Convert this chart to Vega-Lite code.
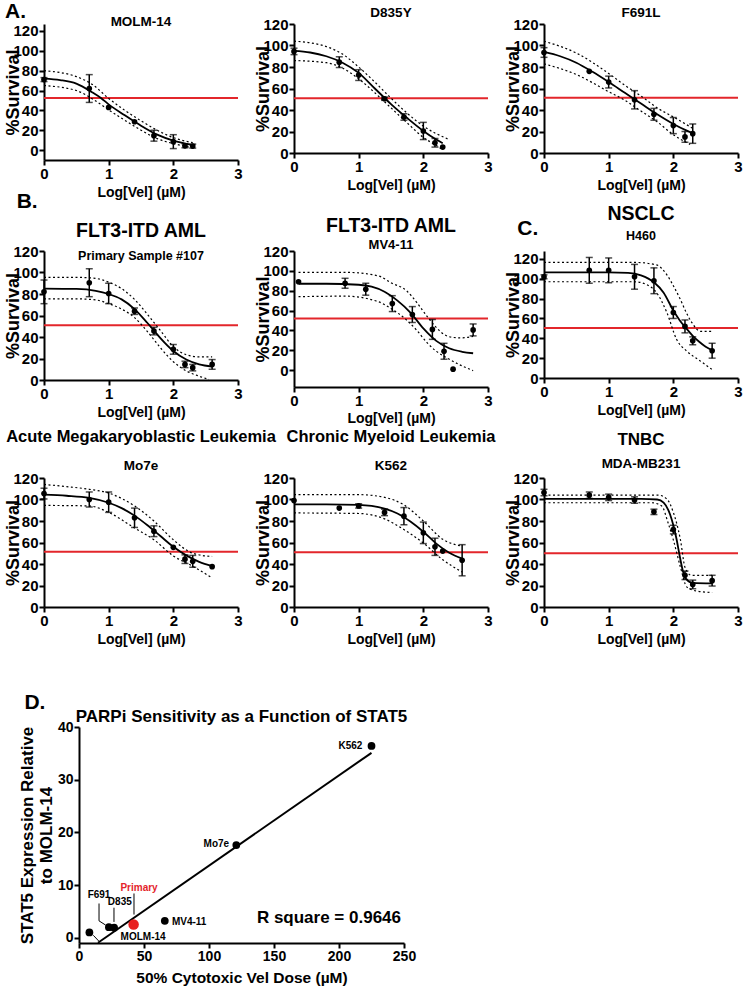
{
  "$schema": "https://vega.github.io/schema/vega-lite/v6.json",
  "background": "white",
  "padding": {"left": 4, "top": 0, "right": 0, "bottom": 0},
  "config": {
    "font": "Liberation Sans",
    "view": {"stroke": null},
    "axis": {"domainColor": "black", "domainWidth": 2, "tickColor": "black", "tickWidth": 2, "tickSize": 5, "grid": false, "labelFont": "Liberation Sans", "labelFontWeight": "bold", "labelColor": "black", "labelFontSize": 15, "labelFlush": false, "titleFont": "Liberation Sans", "titleFontWeight": "bold", "titleColor": "black"},
    "axisX": {"titleFontSize": 14, "labelPadding": 1, "titlePadding": 4},
    "axisY": {"titleFontSize": 18, "labelPadding": 1, "titlePadding": -10},
    "title": {"font": "Liberation Sans", "fontWeight": "bold", "color": "black", "subtitleFont": "Liberation Sans", "subtitleFontWeight": "bold", "subtitleColor": "black", "frame": "group", "anchor": "middle"}
  },
  "datasets": {
    "m14": [
      {"k":"L","t":"B.","x":-0.26,"y":-52.3},
      {"k":"r","x":0,"y":52.5},{"k":"r","x":3,"y":52.5},
      {"k":"f","x":0,"y":72},{"k":"f","x":0.25,"y":70.5},{"k":"f","x":0.5,"y":67},{"k":"f","x":0.75,"y":58},{"k":"f","x":0.88,"y":52.5},{"k":"f","x":1,"y":46},{"k":"f","x":1.25,"y":35},{"k":"f","x":1.5,"y":24.5},{"k":"f","x":1.75,"y":15.5},{"k":"f","x":2,"y":9.5},{"k":"f","x":2.3,"y":5},
      {"k":"u","x":0,"y":80},{"k":"u","x":0.5,"y":74},{"k":"u","x":0.75,"y":66},{"k":"u","x":1,"y":52},{"k":"u","x":1.25,"y":40},{"k":"u","x":1.5,"y":29.5},{"k":"u","x":1.75,"y":20},{"k":"u","x":2,"y":12.5},{"k":"u","x":2.3,"y":7.5},
      {"k":"l","x":0,"y":65},{"k":"l","x":0.5,"y":60},{"k":"l","x":0.75,"y":51.5},{"k":"l","x":1,"y":40.5},{"k":"l","x":1.25,"y":30},{"k":"l","x":1.5,"y":20},{"k":"l","x":1.75,"y":11.5},{"k":"l","x":2,"y":6.5},{"k":"l","x":2.3,"y":2.5},
      {"k":"p","x":0,"y":71,"e":2},{"k":"p","x":0.7,"y":62,"e":14},{"k":"p","x":1,"y":43,"e":0},{"k":"p","x":1.4,"y":28.5,"e":0},{"k":"p","x":1.7,"y":14.5,"e":5.5},{"k":"p","x":2,"y":8.5,"e":7},{"k":"p","x":2.18,"y":4.3,"e":2},{"k":"p","x":2.3,"y":4,"e":2}
    ],
    "d835": [
      {"k":"r","x":0,"y":51},{"k":"r","x":3,"y":51},
      {"k":"f","x":0,"y":95},{"k":"f","x":0.25,"y":93.5},{"k":"f","x":0.5,"y":90},{"k":"f","x":0.75,"y":84},{"k":"f","x":1,"y":74.5},{"k":"f","x":1.25,"y":60},{"k":"f","x":1.5,"y":45.5},{"k":"f","x":1.75,"y":32.5},{"k":"f","x":2,"y":20.5},{"k":"f","x":2.2,"y":12.5},{"k":"f","x":2.3,"y":9},
      {"k":"u","x":0,"y":104},{"k":"u","x":0.25,"y":102.5},{"k":"u","x":0.5,"y":99},{"k":"u","x":0.75,"y":92},{"k":"u","x":1,"y":80},{"k":"u","x":1.25,"y":66},{"k":"u","x":1.5,"y":51},{"k":"u","x":1.75,"y":37},{"k":"u","x":2,"y":25},{"k":"u","x":2.38,"y":13},
      {"k":"l","x":0,"y":86},{"k":"l","x":0.5,"y":84},{"k":"l","x":0.75,"y":79},{"k":"l","x":1,"y":69},{"k":"l","x":1.25,"y":56},{"k":"l","x":1.5,"y":42},{"k":"l","x":1.75,"y":28},{"k":"l","x":2,"y":14.5},{"k":"l","x":2.2,"y":7},{"k":"l","x":2.3,"y":3},
      {"k":"p","x":0,"y":94.5,"e":3},{"k":"p","x":0.7,"y":84.5,"e":5},{"k":"p","x":1,"y":72.5,"e":5},{"k":"p","x":1.4,"y":50.5,"e":1.5},{"k":"p","x":1.7,"y":33.5,"e":3},{"k":"p","x":2,"y":20.5,"e":8},{"k":"p","x":2.18,"y":9.5,"e":4},{"k":"p","x":2.3,"y":5.5,"e":0}
    ],
    "f691": [
      {"k":"L","t":"C.","x":-0.25,"y":-70.7},
      {"k":"r","x":0,"y":51.5},{"k":"r","x":3,"y":51.5},
      {"k":"f","x":0,"y":94},{"k":"f","x":0.25,"y":90},{"k":"f","x":0.5,"y":84},{"k":"f","x":0.75,"y":75.5},{"k":"f","x":1,"y":66},{"k":"f","x":1.25,"y":56},{"k":"f","x":1.5,"y":46},{"k":"f","x":1.75,"y":36},{"k":"f","x":2,"y":27},{"k":"f","x":2.2,"y":21},{"k":"f","x":2.3,"y":18.5},
      {"k":"u","x":0,"y":104},{"k":"u","x":0.5,"y":93},{"k":"u","x":1,"y":74},{"k":"u","x":1.25,"y":63},{"k":"u","x":1.5,"y":53},{"k":"u","x":1.75,"y":42},{"k":"u","x":2,"y":33.5},{"k":"u","x":2.3,"y":23},
      {"k":"l","x":0,"y":83},{"k":"l","x":0.5,"y":73},{"k":"l","x":1,"y":57},{"k":"l","x":1.25,"y":49},{"k":"l","x":1.5,"y":39},{"k":"l","x":1.75,"y":29},{"k":"l","x":2,"y":17},{"k":"l","x":2.26,"y":8},
      {"k":"p","x":0,"y":93.5,"e":4.5},{"k":"p","x":0.7,"y":76,"e":0},{"k":"p","x":1,"y":66,"e":5.5},{"k":"p","x":1.4,"y":49.5,"e":8.5},{"k":"p","x":1.7,"y":36,"e":5.5},{"k":"p","x":2,"y":25.5,"e":7.5},{"k":"p","x":2.18,"y":15,"e":5},{"k":"p","x":2.3,"y":18,"e":9}
    ],
    "p107": [
      {"k":"r","x":0,"y":51},{"k":"r","x":3,"y":51},
      {"k":"f","x":0,"y":85},{"k":"f","x":0.5,"y":84.7},{"k":"f","x":0.8,"y":83},{"k":"f","x":1,"y":80},{"k":"f","x":1.2,"y":75},{"k":"f","x":1.4,"y":66},{"k":"f","x":1.6,"y":53},{"k":"f","x":1.7,"y":46},{"k":"f","x":1.8,"y":39},{"k":"f","x":2,"y":27},{"k":"f","x":2.2,"y":19},{"k":"f","x":2.4,"y":14.5},{"k":"f","x":2.6,"y":12.5},
      {"k":"u","x":0,"y":95.5},{"k":"u","x":0.5,"y":95.5},{"k":"u","x":0.8,"y":94.5},{"k":"u","x":1,"y":91},{"k":"u","x":1.2,"y":85},{"k":"u","x":1.4,"y":75},{"k":"u","x":1.6,"y":61},{"k":"u","x":1.8,"y":46},{"k":"u","x":2,"y":31},{"k":"u","x":2.2,"y":23.5},{"k":"u","x":2.4,"y":21.5},{"k":"u","x":2.6,"y":21.5},
      {"k":"l","x":0,"y":75.5},{"k":"l","x":0.5,"y":75.5},{"k":"l","x":0.8,"y":74.5},{"k":"l","x":1,"y":71},{"k":"l","x":1.2,"y":66},{"k":"l","x":1.4,"y":58},{"k":"l","x":1.6,"y":45},{"k":"l","x":1.8,"y":30},{"k":"l","x":2,"y":17},{"k":"l","x":2.2,"y":8.5},{"k":"l","x":2.4,"y":3.5},{"k":"l","x":2.55,"y":0.5},
      {"k":"p","x":0,"y":82,"e":11},{"k":"p","x":0.7,"y":90.5,"e":13},{"k":"p","x":1,"y":80.5,"e":9.5},{"k":"p","x":1.4,"y":64,"e":3},{"k":"p","x":1.7,"y":45.5,"e":3.5},{"k":"p","x":2,"y":28.5,"e":4.5},{"k":"p","x":2.18,"y":14.5,"e":3},{"k":"p","x":2.3,"y":11.5,"e":3},{"k":"p","x":2.6,"y":14.5,"e":4.5}
    ],
    "mv4": [
      {"k":"r","x":0,"y":52},{"k":"r","x":3,"y":52},
      {"k":"f","x":0.07,"y":87},{"k":"f","x":0.5,"y":87},{"k":"f","x":1,"y":86},{"k":"f","x":1.2,"y":84},{"k":"f","x":1.4,"y":79},{"k":"f","x":1.6,"y":70},{"k":"f","x":1.8,"y":58},{"k":"f","x":2,"y":42},{"k":"f","x":2.2,"y":29.5},{"k":"f","x":2.4,"y":22},{"k":"f","x":2.6,"y":18.5},{"k":"f","x":2.77,"y":17},
      {"k":"u","x":0.07,"y":98.5},{"k":"u","x":0.8,"y":98.5},{"k":"u","x":1.3,"y":95},{"k":"u","x":1.5,"y":88},{"k":"u","x":1.74,"y":80},{"k":"u","x":1.9,"y":68},{"k":"u","x":2.06,"y":54},{"k":"u","x":2.2,"y":43},{"k":"u","x":2.32,"y":36},{"k":"u","x":2.45,"y":33},{"k":"u","x":2.59,"y":32.5},{"k":"u","x":2.77,"y":34},
      {"k":"l","x":0.07,"y":74},{"k":"l","x":0.8,"y":74.5},{"k":"l","x":1.3,"y":69},{"k":"l","x":1.5,"y":62},{"k":"l","x":1.74,"y":50.5},{"k":"l","x":1.9,"y":40},{"k":"l","x":2.06,"y":27.5},{"k":"l","x":2.2,"y":19},{"k":"l","x":2.32,"y":14},{"k":"l","x":2.59,"y":4.5},{"k":"l","x":2.77,"y":-0.5},
      {"k":"p","x":0.07,"y":89,"e":0},{"k":"p","x":0.79,"y":87.5,"e":5},{"k":"p","x":1.11,"y":81.5,"e":6},{"k":"p","x":1.52,"y":67,"e":8},{"k":"p","x":1.83,"y":56,"e":8},{"k":"p","x":2.14,"y":41,"e":10},{"k":"p","x":2.32,"y":19,"e":8},{"k":"p","x":2.46,"y":1,"e":0},{"k":"p","x":2.77,"y":40.5,"e":6}
    ],
    "h460": [
      {"k":"r","x":0,"y":50.5},{"k":"r","x":3,"y":50.5},
      {"k":"f","x":0,"y":106.5},{"k":"f","x":0.5,"y":106.5},{"k":"f","x":1,"y":106.5},{"k":"f","x":1.3,"y":106},{"k":"f","x":1.5,"y":103.5},{"k":"f","x":1.7,"y":96.5},{"k":"f","x":1.85,"y":86},{"k":"f","x":2,"y":68},{"k":"f","x":2.1,"y":58},{"k":"f","x":2.2,"y":50},{"k":"f","x":2.3,"y":42.5},{"k":"f","x":2.4,"y":36.5},{"k":"f","x":2.5,"y":31.5},{"k":"f","x":2.6,"y":28},
      {"k":"u","x":0,"y":116.5},{"k":"u","x":1.4,"y":116.5},{"k":"u","x":1.74,"y":114},{"k":"u","x":1.9,"y":104},{"k":"u","x":2,"y":93},{"k":"u","x":2.11,"y":79},{"k":"u","x":2.2,"y":66},{"k":"u","x":2.29,"y":55.5},{"k":"u","x":2.42,"y":47},{"k":"u","x":2.6,"y":47},
      {"k":"l","x":0,"y":97},{"k":"l","x":1.4,"y":97},{"k":"l","x":1.59,"y":94},{"k":"l","x":1.74,"y":86},{"k":"l","x":1.9,"y":66},{"k":"l","x":2.05,"y":39},{"k":"l","x":2.21,"y":27},{"k":"l","x":2.42,"y":17},{"k":"l","x":2.6,"y":8.5},
      {"k":"p","x":0,"y":102,"e":2},{"k":"p","x":0.7,"y":108.5,"e":13},{"k":"p","x":1,"y":108.5,"e":12.5},{"k":"p","x":1.4,"y":102,"e":12.5},{"k":"p","x":1.7,"y":98,"e":13},{"k":"p","x":2,"y":66,"e":6},{"k":"p","x":2.18,"y":52,"e":6.5},{"k":"p","x":2.3,"y":37.5,"e":4},{"k":"p","x":2.6,"y":27.5,"e":7.5}
    ],
    "mo7e": [
      {"k":"r","x":0,"y":51.5},{"k":"r","x":3,"y":51.5},
      {"k":"f","x":0,"y":104.5},{"k":"f","x":0.35,"y":103.5},{"k":"f","x":0.7,"y":101.5},{"k":"f","x":1,"y":97},{"k":"f","x":1.2,"y":92},{"k":"f","x":1.4,"y":85},{"k":"f","x":1.6,"y":76},{"k":"f","x":1.8,"y":66},{"k":"f","x":2,"y":56},{"k":"f","x":2.2,"y":48},{"k":"f","x":2.4,"y":42},{"k":"f","x":2.6,"y":38},
      {"k":"u","x":0,"y":114},{"k":"u","x":0.35,"y":112},{"k":"u","x":0.7,"y":109.5},{"k":"u","x":1,"y":106},{"k":"u","x":1.4,"y":94},{"k":"u","x":1.7,"y":80},{"k":"u","x":2,"y":62.5},{"k":"u","x":2.3,"y":50},{"k":"u","x":2.6,"y":47},
      {"k":"l","x":0,"y":94.5},{"k":"l","x":0.7,"y":94},{"k":"l","x":1,"y":88},{"k":"l","x":1.4,"y":73.5},{"k":"l","x":1.7,"y":62.5},{"k":"l","x":2,"y":47.5},{"k":"l","x":2.3,"y":38},{"k":"l","x":2.6,"y":27},
      {"k":"p","x":0,"y":105.5,"e":5},{"k":"p","x":0.7,"y":100,"e":7},{"k":"p","x":1,"y":97.5,"e":9.5},{"k":"p","x":1.4,"y":83,"e":9},{"k":"p","x":1.7,"y":70.5,"e":5},{"k":"p","x":2,"y":55.5,"e":0},{"k":"p","x":2.18,"y":44.5,"e":4},{"k":"p","x":2.3,"y":42.5,"e":5.5},{"k":"p","x":2.6,"y":37.5,"e":0}
    ],
    "k562": [
      {"k":"r","x":0,"y":51},{"k":"r","x":3,"y":51},
      {"k":"f","x":0,"y":95.5},{"k":"f","x":0.5,"y":95.5},{"k":"f","x":1,"y":95},{"k":"f","x":1.2,"y":94},{"k":"f","x":1.4,"y":91.5},{"k":"f","x":1.6,"y":87},{"k":"f","x":1.8,"y":79.5},{"k":"f","x":2,"y":70},{"k":"f","x":2.2,"y":59},{"k":"f","x":2.4,"y":50.5},{"k":"f","x":2.6,"y":45},
      {"k":"u","x":0,"y":104.5},{"k":"u","x":1,"y":104.5},{"k":"u","x":1.4,"y":102},{"k":"u","x":1.7,"y":95},{"k":"u","x":2,"y":80},{"k":"u","x":2.3,"y":63},{"k":"u","x":2.6,"y":56.5},
      {"k":"l","x":0,"y":87.5},{"k":"l","x":1,"y":87},{"k":"l","x":1.4,"y":82},{"k":"l","x":1.7,"y":72},{"k":"l","x":2,"y":59.5},{"k":"l","x":2.3,"y":44},{"k":"l","x":2.6,"y":32.5},
      {"k":"p","x":0,"y":99,"e":0},{"k":"p","x":0.7,"y":92,"e":0},{"k":"p","x":1,"y":94,"e":2},{"k":"p","x":1.4,"y":88,"e":3},{"k":"p","x":1.7,"y":84.5,"e":8},{"k":"p","x":2,"y":69,"e":10},{"k":"p","x":2.18,"y":56,"e":8},{"k":"p","x":2.3,"y":52,"e":0},{"k":"p","x":2.6,"y":43.5,"e":14.5}
    ],
    "mda": [
      {"k":"r","x":0,"y":50},{"k":"r","x":3,"y":50},
      {"k":"f","x":0,"y":100.5},{"k":"f","x":0.5,"y":100.5},{"k":"f","x":1,"y":100.5},{"k":"f","x":1.5,"y":100.5},{"k":"f","x":1.75,"y":100},{"k":"f","x":1.85,"y":97},{"k":"f","x":1.95,"y":86},{"k":"f","x":2,"y":76},{"k":"f","x":2.05,"y":63},{"k":"f","x":2.1,"y":47},{"k":"f","x":2.15,"y":33},{"k":"f","x":2.2,"y":26},{"k":"f","x":2.3,"y":22.5},{"k":"f","x":2.6,"y":22},
      {"k":"u","x":0,"y":104},{"k":"u","x":1.77,"y":104},{"k":"u","x":1.9,"y":100.5},{"k":"u","x":2,"y":88},{"k":"u","x":2.11,"y":62.5},{"k":"u","x":2.18,"y":37},{"k":"u","x":2.28,"y":29.5},{"k":"u","x":2.6,"y":29.5},
      {"k":"l","x":0,"y":97},{"k":"l","x":1.66,"y":97},{"k":"l","x":1.82,"y":94},{"k":"l","x":1.92,"y":78},{"k":"l","x":2,"y":62.5},{"k":"l","x":2.11,"y":37},{"k":"l","x":2.21,"y":18.5},{"k":"l","x":2.35,"y":15},{"k":"l","x":2.6,"y":13.5},
      {"k":"p","x":0,"y":106.5,"e":3},{"k":"p","x":0.7,"y":104,"e":3},{"k":"p","x":1,"y":102,"e":3},{"k":"p","x":1.4,"y":99.5,"e":3},{"k":"p","x":1.7,"y":88.5,"e":2.5},{"k":"p","x":2,"y":72,"e":4},{"k":"p","x":2.18,"y":29.5,"e":4},{"k":"p","x":2.3,"y":21,"e":4},{"k":"p","x":2.6,"y":24.5,"e":5}
    ],
    "dd": [
      {"k":"rsq","t":"R square = 0.9646","x":247.7,"y":3.74},
      {"k":"reg","x":14.6,"y":-0.95},{"k":"reg","x":225,"y":35.1},
      {"k":"pt","n":"MOLM-14","x":8,"y":1},{"k":"pt","n":"F691","x":23,"y":2},{"k":"pt","n":"D835","x":27,"y":1.9},{"k":"pt","n":"MV4-11","x":66,"y":3.2},{"k":"pt","n":"Mo7e","x":121,"y":17.6},{"k":"pt","n":"K562","x":225,"y":36.4},{"k":"pt","n":"Primary","x":42,"y":2.5},
      {"k":"lead","x":15.4,"y":6.5,"x2":15.4,"y2":3.2},{"k":"lead","x":15.4,"y":3.2,"x2":20.5,"y2":2.4},{"k":"lead","x":26.9,"y":5.7,"x2":26.9,"y2":3.0},{"k":"lead","x":42.3,"y":8.4,"x2":42.3,"y2":4.4},{"k":"lead","x":11,"y":0.46,"x2":15.4,"y2":-0.68},
      {"k":"lab","t":"K562","x":218,"y":36.3},{"k":"lab","t":"Mo7e","x":115.5,"y":17.7},{"k":"lab","t":"MV4-11","x":71.5,"y":3.0},{"k":"lab","t":"MOLM-14","x":32,"y":0.1},{"k":"lab","t":"F691","x":15.4,"y":8.2},{"k":"lab","t":"D835","x":31.4,"y":6.8},{"k":"lab","t":"Primary","x":46.2,"y":9.4}
    ]
  },
  "vconcat": [
    {
      "title": {"text": "A.", "anchor": "start", "frame": "bounds", "fontSize": 21, "offset": -16},
      "columns": 3,
      "bounds": "flush",
      "spacing": {"row": 91, "column": 56},
      "concat": [
        {
          "width": 194, "height": 136, "data": {"name": "m14"},
          "title": {"text": "MOLM-14", "fontSize": 13.5, "offset": -5},
          "encoding": {
            "x": {"field": "x", "type": "quantitative", "scale": {"domain": [0, 3], "nice": false}, "axis": {"values": [0, 1, 2, 3], "title": "Log[Vel] (µM)"}},
            "y": {"field": "y", "type": "quantitative", "scale": {"domain": [-10, 127], "nice": false}, "axis": {"values": [0, 20, 40, 60, 80, 100, 120], "title": "%Survival"}}
          },
          "layer": [
            {"transform": [{"filter": "datum.k=='r'"}], "mark": {"type": "line", "color": "#e3262b", "strokeWidth": 2}},
            {"transform": [{"filter": "datum.k=='u'||datum.k=='l'"}], "mark": {"type": "line", "color": "black", "strokeWidth": 1.2, "strokeDash": [2, 2.5], "interpolate": "monotone"}, "encoding": {"detail": {"field": "k"}}},
            {"transform": [{"filter": "datum.k=='f'"}], "mark": {"type": "line", "color": "black", "strokeWidth": 1.8, "interpolate": "monotone"}},
            {"transform": [{"filter": "datum.k=='p'&&datum.e>0"}], "mark": {"type": "errorbar", "color": "black", "thickness": 1.5, "ticks": {"size": 7, "thickness": 1.5}}, "encoding": {"yError": {"field": "e"}}},
            {"transform": [{"filter": "datum.k=='p'"}], "mark": {"type": "circle", "size": 32, "color": "black", "opacity": 1}},
            {"transform": [{"filter": "datum.k=='L'"}], "mark": {"type": "text", "fontSize": 21, "fontWeight": "bold", "align": "center", "baseline": "middle", "color": "black"}, "encoding": {"text": {"field": "t"}}}
          ]
        },
        {
          "width": 194, "height": 129, "data": {"name": "d835"},
          "title": {"text": "D835Y", "fontSize": 13.5, "offset": -2},
          "encoding": {
            "x": {"field": "x", "type": "quantitative", "scale": {"domain": [0, 3], "nice": false}, "axis": {"values": [0, 1, 2, 3], "title": "Log[Vel] (µM)"}},
            "y": {"field": "y", "type": "quantitative", "scale": {"domain": [0, 120], "nice": false}, "axis": {"values": [0, 20, 40, 60, 80, 100, 120], "title": "%Survival"}}
          },
          "layer": [
            {"transform": [{"filter": "datum.k=='r'"}], "mark": {"type": "line", "color": "#e3262b", "strokeWidth": 2}},
            {"transform": [{"filter": "datum.k=='u'||datum.k=='l'"}], "mark": {"type": "line", "color": "black", "strokeWidth": 1.2, "strokeDash": [2, 2.5], "interpolate": "monotone"}, "encoding": {"detail": {"field": "k"}}},
            {"transform": [{"filter": "datum.k=='f'"}], "mark": {"type": "line", "color": "black", "strokeWidth": 1.8, "interpolate": "monotone"}},
            {"transform": [{"filter": "datum.k=='p'&&datum.e>0"}], "mark": {"type": "errorbar", "color": "black", "thickness": 1.5, "ticks": {"size": 7, "thickness": 1.5}}, "encoding": {"yError": {"field": "e"}}},
            {"transform": [{"filter": "datum.k=='p'"}], "mark": {"type": "circle", "size": 32, "color": "black", "opacity": 1}}
          ]
        },
        {
          "width": 194, "height": 129, "data": {"name": "f691"},
          "title": {"text": "F691L", "fontSize": 13.5, "offset": -2},
          "encoding": {
            "x": {"field": "x", "type": "quantitative", "scale": {"domain": [0, 3], "nice": false}, "axis": {"values": [0, 1, 2, 3], "title": "Log[Vel] (µM)"}},
            "y": {"field": "y", "type": "quantitative", "scale": {"domain": [0, 120], "nice": false}, "axis": {"values": [0, 20, 40, 60, 80, 100, 120], "title": "%Survival"}}
          },
          "layer": [
            {"transform": [{"filter": "datum.k=='r'"}], "mark": {"type": "line", "color": "#e3262b", "strokeWidth": 2}},
            {"transform": [{"filter": "datum.k=='u'||datum.k=='l'"}], "mark": {"type": "line", "color": "black", "strokeWidth": 1.2, "strokeDash": [2, 2.5], "interpolate": "monotone"}, "encoding": {"detail": {"field": "k"}}},
            {"transform": [{"filter": "datum.k=='f'"}], "mark": {"type": "line", "color": "black", "strokeWidth": 1.8, "interpolate": "monotone"}},
            {"transform": [{"filter": "datum.k=='p'&&datum.e>0"}], "mark": {"type": "errorbar", "color": "black", "thickness": 1.5, "ticks": {"size": 7, "thickness": 1.5}}, "encoding": {"yError": {"field": "e"}}},
            {"transform": [{"filter": "datum.k=='p'"}], "mark": {"type": "circle", "size": 32, "color": "black", "opacity": 1}},
            {"transform": [{"filter": "datum.k=='L'"}], "mark": {"type": "text", "fontSize": 21, "fontWeight": "bold", "align": "center", "baseline": "middle", "color": "black"}, "encoding": {"text": {"field": "t"}}}
          ]
        },
        {
          "width": 194, "height": 129, "data": {"name": "p107"},
          "title": {"text": "FLT3-ITD AML", "subtitle": "Primary Sample #107", "fontSize": 19.5, "subtitleFontSize": 12.5, "offset": -19, "subtitlePadding": 8},
          "encoding": {
            "x": {"field": "x", "type": "quantitative", "scale": {"domain": [0, 3], "nice": false}, "axis": {"values": [0, 1, 2, 3], "title": "Log[Vel] (µM)"}},
            "y": {"field": "y", "type": "quantitative", "scale": {"domain": [0, 120], "nice": false}, "axis": {"values": [0, 20, 40, 60, 80, 100, 120], "title": "%Survival"}}
          },
          "layer": [
            {"transform": [{"filter": "datum.k=='r'"}], "mark": {"type": "line", "color": "#e3262b", "strokeWidth": 2}},
            {"transform": [{"filter": "datum.k=='u'||datum.k=='l'"}], "mark": {"type": "line", "color": "black", "strokeWidth": 1.2, "strokeDash": [2, 2.5], "interpolate": "monotone"}, "encoding": {"detail": {"field": "k"}}},
            {"transform": [{"filter": "datum.k=='f'"}], "mark": {"type": "line", "color": "black", "strokeWidth": 1.8, "interpolate": "monotone"}},
            {"transform": [{"filter": "datum.k=='p'&&datum.e>0"}], "mark": {"type": "errorbar", "color": "black", "thickness": 1.5, "ticks": {"size": 7, "thickness": 1.5}}, "encoding": {"yError": {"field": "e"}}},
            {"transform": [{"filter": "datum.k=='p'"}], "mark": {"type": "circle", "size": 32, "color": "black", "opacity": 1}}
          ]
        },
        {
          "width": 194, "height": 136, "data": {"name": "mv4"},
          "title": {"text": "FLT3-ITD AML", "subtitle": "MV4-11", "fontSize": 19.5, "subtitleFontSize": 13, "offset": -9, "subtitlePadding": 3},
          "encoding": {
            "x": {"field": "x", "type": "quantitative", "scale": {"domain": [0, 3], "nice": false}, "axis": {"values": [0, 1, 2, 3], "title": "Log[Vel] (µM)", "titlePadding": 3}},
            "y": {"field": "y", "type": "quantitative", "scale": {"domain": [-17, 120], "nice": false}, "axis": {"values": [0, 20, 40, 60, 80, 100, 120], "title": "%Survival"}}
          },
          "layer": [
            {"transform": [{"filter": "datum.k=='r'"}], "mark": {"type": "line", "color": "#e3262b", "strokeWidth": 2}},
            {"transform": [{"filter": "datum.k=='u'||datum.k=='l'"}], "mark": {"type": "line", "color": "black", "strokeWidth": 1.2, "strokeDash": [2, 2.5], "interpolate": "monotone"}, "encoding": {"detail": {"field": "k"}}},
            {"transform": [{"filter": "datum.k=='f'"}], "mark": {"type": "line", "color": "black", "strokeWidth": 1.8, "interpolate": "monotone"}},
            {"transform": [{"filter": "datum.k=='p'&&datum.e>0"}], "mark": {"type": "errorbar", "color": "black", "thickness": 1.5, "ticks": {"size": 7, "thickness": 1.5}}, "encoding": {"yError": {"field": "e"}}},
            {"transform": [{"filter": "datum.k=='p'"}], "mark": {"type": "circle", "size": 32, "color": "black", "opacity": 1}}
          ]
        },
        {
          "width": 194, "height": 127, "data": {"name": "h460"},
          "title": {"text": "NSCLC", "subtitle": "H460", "fontSize": 19.5, "subtitleFontSize": 12.5, "offset": 8, "subtitlePadding": 5},
          "encoding": {
            "x": {"field": "x", "type": "quantitative", "scale": {"domain": [0, 3], "nice": false}, "axis": {"values": [0, 1, 2, 3], "title": "Log[Vel] (µM)"}},
            "y": {"field": "y", "type": "quantitative", "scale": {"domain": [0, 128], "nice": false}, "axis": {"values": [0, 20, 40, 60, 80, 100, 120], "title": "%Survival"}}
          },
          "layer": [
            {"transform": [{"filter": "datum.k=='r'"}], "mark": {"type": "line", "color": "#e3262b", "strokeWidth": 2}},
            {"transform": [{"filter": "datum.k=='u'||datum.k=='l'"}], "mark": {"type": "line", "color": "black", "strokeWidth": 1.2, "strokeDash": [2, 2.5], "interpolate": "monotone"}, "encoding": {"detail": {"field": "k"}}},
            {"transform": [{"filter": "datum.k=='f'"}], "mark": {"type": "line", "color": "black", "strokeWidth": 1.8, "interpolate": "monotone"}},
            {"transform": [{"filter": "datum.k=='p'&&datum.e>0"}], "mark": {"type": "errorbar", "color": "black", "thickness": 1.5, "ticks": {"size": 7, "thickness": 1.5}}, "encoding": {"yError": {"field": "e"}}},
            {"transform": [{"filter": "datum.k=='p'"}], "mark": {"type": "circle", "size": 32, "color": "black", "opacity": 1}}
          ]
        },
        {
          "width": 194, "height": 129, "data": {"name": "mo7e"},
          "title": {"text": "Acute Megakaryoblastic Leukemia", "subtitle": "Mo7e", "fontSize": 16.5, "subtitleFontSize": 13.5, "offset": -1, "subtitlePadding": 13},
          "encoding": {
            "x": {"field": "x", "type": "quantitative", "scale": {"domain": [0, 3], "nice": false}, "axis": {"values": [0, 1, 2, 3], "title": "Log[Vel] (µM)"}},
            "y": {"field": "y", "type": "quantitative", "scale": {"domain": [0, 120], "nice": false}, "axis": {"values": [0, 20, 40, 60, 80, 100, 120], "title": "%Survival"}}
          },
          "layer": [
            {"transform": [{"filter": "datum.k=='r'"}], "mark": {"type": "line", "color": "#e3262b", "strokeWidth": 2}},
            {"transform": [{"filter": "datum.k=='u'||datum.k=='l'"}], "mark": {"type": "line", "color": "black", "strokeWidth": 1.2, "strokeDash": [2, 2.5], "interpolate": "monotone"}, "encoding": {"detail": {"field": "k"}}},
            {"transform": [{"filter": "datum.k=='f'"}], "mark": {"type": "line", "color": "black", "strokeWidth": 1.8, "interpolate": "monotone"}},
            {"transform": [{"filter": "datum.k=='p'&&datum.e>0"}], "mark": {"type": "errorbar", "color": "black", "thickness": 1.5, "ticks": {"size": 7, "thickness": 1.5}}, "encoding": {"yError": {"field": "e"}}},
            {"transform": [{"filter": "datum.k=='p'"}], "mark": {"type": "circle", "size": 32, "color": "black", "opacity": 1}}
          ]
        },
        {
          "width": 194, "height": 129, "data": {"name": "k562"},
          "title": {"text": "Chronic Myeloid Leukemia", "subtitle": "K562", "fontSize": 16.5, "subtitleFontSize": 13.5, "offset": -1, "subtitlePadding": 13},
          "encoding": {
            "x": {"field": "x", "type": "quantitative", "scale": {"domain": [0, 3], "nice": false}, "axis": {"values": [0, 1, 2, 3], "title": "Log[Vel] (µM)"}},
            "y": {"field": "y", "type": "quantitative", "scale": {"domain": [0, 120], "nice": false}, "axis": {"values": [0, 20, 40, 60, 80, 100, 120], "title": "%Survival"}}
          },
          "layer": [
            {"transform": [{"filter": "datum.k=='r'"}], "mark": {"type": "line", "color": "#e3262b", "strokeWidth": 2}},
            {"transform": [{"filter": "datum.k=='u'||datum.k=='l'"}], "mark": {"type": "line", "color": "black", "strokeWidth": 1.2, "strokeDash": [2, 2.5], "interpolate": "monotone"}, "encoding": {"detail": {"field": "k"}}},
            {"transform": [{"filter": "datum.k=='f'"}], "mark": {"type": "line", "color": "black", "strokeWidth": 1.8, "interpolate": "monotone"}},
            {"transform": [{"filter": "datum.k=='p'&&datum.e>0"}], "mark": {"type": "errorbar", "color": "black", "thickness": 1.5, "ticks": {"size": 7, "thickness": 1.5}}, "encoding": {"yError": {"field": "e"}}},
            {"transform": [{"filter": "datum.k=='p'"}], "mark": {"type": "circle", "size": 32, "color": "black", "opacity": 1}}
          ]
        },
        {
          "width": 194, "height": 129, "data": {"name": "mda"},
          "title": {"text": "TNBC", "subtitle": "MDA-MB231", "fontSize": 17, "subtitleFontSize": 13.5, "offset": 0, "subtitlePadding": 8},
          "encoding": {
            "x": {"field": "x", "type": "quantitative", "scale": {"domain": [0, 3], "nice": false}, "axis": {"values": [0, 1, 2, 3], "title": "Log[Vel] (µM)"}},
            "y": {"field": "y", "type": "quantitative", "scale": {"domain": [0, 120], "nice": false}, "axis": {"values": [0, 20, 40, 60, 80, 100, 120], "title": "%Survival"}}
          },
          "layer": [
            {"transform": [{"filter": "datum.k=='r'"}], "mark": {"type": "line", "color": "#e3262b", "strokeWidth": 2}},
            {"transform": [{"filter": "datum.k=='u'||datum.k=='l'"}], "mark": {"type": "line", "color": "black", "strokeWidth": 1.2, "strokeDash": [2, 2.5], "interpolate": "monotone"}, "encoding": {"detail": {"field": "k"}}},
            {"transform": [{"filter": "datum.k=='f'"}], "mark": {"type": "line", "color": "black", "strokeWidth": 1.8, "interpolate": "monotone"}},
            {"transform": [{"filter": "datum.k=='p'&&datum.e>0"}], "mark": {"type": "errorbar", "color": "black", "thickness": 1.5, "ticks": {"size": 7, "thickness": 1.5}}, "encoding": {"yError": {"field": "e"}}},
            {"transform": [{"filter": "datum.k=='p'"}], "mark": {"type": "circle", "size": 32, "color": "black", "opacity": 1}}
          ]
        }
      ]
    },
    {
      "title": {"text": "D.", "anchor": "start", "frame": "bounds", "fontSize": 21, "offset": -4.5, "dx": 6},
      "spacing": -27,
      "hconcat": [
        {"width": 1, "height": 216, "data": {"values": []}, "mark": "point"},
        {
          "width": 325, "height": 216, "data": {"name": "dd"},
          "title": {"text": "PARPi Sensitivity as a Function of STAT5", "fontSize": 17, "offset": -6},
          "encoding": {
            "x": {"field": "x", "type": "quantitative", "scale": {"domain": [0, 250], "nice": false}, "axis": {"values": [0, 50, 100, 150, 200, 250], "title": "50% Cytotoxic Vel Dose (µM)", "titleFontSize": 15.5, "labelFontSize": 14, "titlePadding": 7}},
            "y": {"field": "y", "type": "quantitative", "scale": {"domain": [-1, 40], "nice": false}, "axis": {"values": [0, 10, 20, 30, 40], "title": ["STAT5 Expression Relative", "to MOLM-14"], "titleFontSize": 17, "labelFontSize": 14, "titlePadding": 2, "titleLineHeight": 19}}
          },
          "layer": [
            {"transform": [{"filter": "datum.k=='reg'"}], "mark": {"type": "line", "color": "black", "strokeWidth": 2}},
            {"transform": [{"filter": "datum.k=='lead'"}], "mark": {"type": "rule", "color": "black", "strokeWidth": 1}, "encoding": {"x2": {"field": "x2"}, "y2": {"field": "y2"}}},
            {"transform": [{"filter": "datum.k=='pt'&&datum.n!='Primary'"}], "mark": {"type": "circle", "size": 60, "color": "black", "opacity": 1}},
            {"transform": [{"filter": "datum.k=='pt'&&datum.n=='Primary'"}], "mark": {"type": "circle", "size": 110, "color": "#e8201f", "opacity": 1}},
            {"transform": [{"filter": "datum.k=='lab'&&(datum.t=='K562'||datum.t=='Mo7e')"}], "mark": {"type": "text", "align": "right", "baseline": "middle", "fontSize": 10, "fontWeight": "bold", "color": "black"}, "encoding": {"text": {"field": "t"}}},
            {"transform": [{"filter": "datum.k=='lab'&&(datum.t=='MV4-11'||datum.t=='MOLM-14')"}], "mark": {"type": "text", "align": "left", "baseline": "middle", "fontSize": 10, "fontWeight": "bold", "color": "black"}, "encoding": {"text": {"field": "t"}}},
            {"transform": [{"filter": "datum.k=='lab'&&(datum.t=='F691'||datum.t=='D835')"}], "mark": {"type": "text", "align": "center", "baseline": "middle", "fontSize": 10, "fontWeight": "bold", "color": "black"}, "encoding": {"text": {"field": "t"}}},
            {"transform": [{"filter": "datum.k=='lab'&&datum.t=='Primary'"}], "mark": {"type": "text", "align": "center", "baseline": "middle", "fontSize": 10, "fontWeight": "bold", "color": "#e4242b"}, "encoding": {"text": {"field": "t"}}},
            {"transform": [{"filter": "datum.k=='rsq'"}], "mark": {"type": "text", "align": "right", "baseline": "middle", "fontSize": 17, "fontWeight": "bold", "color": "black"}, "encoding": {"text": {"field": "t"}}}
          ]
        }
      ]
    }
  ],
  "spacing": 45
}
